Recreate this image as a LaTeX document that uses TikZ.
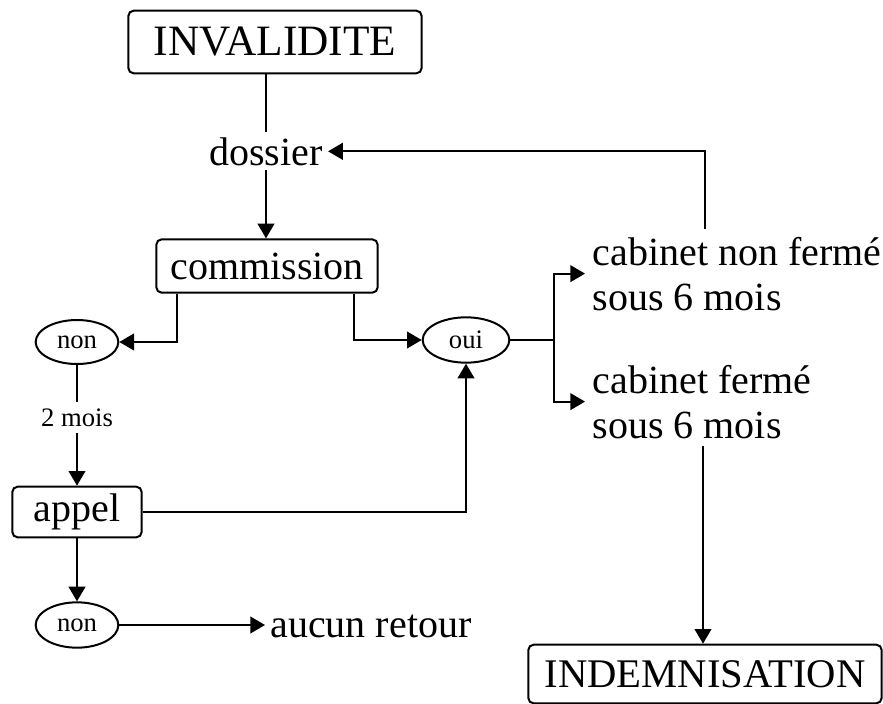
\documentclass[tikz,border=0pt]{standalone}
\usepackage{fontspec}
\setmainfont{Liberation Serif}
\usetikzlibrary{arrows.meta,shapes.geometric,calc}

\begin{document}
\begin{tikzpicture}[x=0.75pt, y=-0.75pt, line width=1.5pt,
  box/.style={draw, rounded corners=4pt, inner sep=0pt, font=\fontsize{30}{34}\selectfont},
  bulle/.style={draw, ellipse, inner sep=0pt, minimum width=62pt, minimum height=33pt,
                font=\fontsize{20}{24}\selectfont},
  etiq/.style={font=\fontsize{30}{33.75}\selectfont},
  fleche/.style={-{Triangle[length=11pt,width=12.5pt]}}]
  \useasboundingbox (0,0) rectangle (883,704);
  % boxes and labels
  \node[box, minimum width=220pt, minimum height=47pt, font=\fontsize{32.5}{36}\selectfont]
    (invalidite) at (275,42) {INVALIDITE};
  \node[etiq, anchor=base, inner ysep=3pt] (dossier) at (266,165) {dossier};
  \node[box, minimum width=166pt, minimum height=40pt] (commission) at (267,266) {commission};
  \node[bulle] (non) at (77,342) {non};
  \node[font=\fontsize{20}{24}\selectfont, anchor=base, inner sep=4pt] (delai) at (77,426) {2 mois};
  \node[box, minimum width=97pt, minimum height=38pt] (appel) at (77,512) {appel};
  \node[bulle, minimum height=34pt] (refus) at (77,625) {non};
  \node[etiq, anchor=base west] (aucun) at (265,637) {aucun retour};
  \node[bulle, minimum width=65pt, minimum height=34pt] (oui) at (466,340) {oui};
  % base = last line of a two-line node
  \node[etiq, align=left, anchor=base west, inner sep=5pt] (ouvert) at (585,310)
    {cabinet non fermé\\sous 6 mois};
  \node[etiq, align=left, anchor=base west, inner sep=5pt] (ferme) at (585,438)
    {cabinet fermé\\sous 6 mois};
  \node[box, minimum width=265pt, minimum height=44pt, font=\fontsize{30.5}{34}\selectfont]
    (indem) at (705,674) {INDEMNISATION};
  % connectors
  \draw (dossier.north |- invalidite.south) -- (dossier.north);
  \draw[fleche] (dossier) -- (dossier |- commission.north);
  \draw[fleche] ($(commission.south west)+(22,0)$) |- (non);
  \draw[fleche] ($(commission.south east)+(-25,0)$) |- (oui);
  \draw (non) -- (delai);
  \draw[fleche] (delai) -- (appel);
  \draw[fleche] (appel) -| (oui);
  \draw[fleche] (appel) -- (refus);
  \draw[fleche] (refus) -- (refus -| aucun.west);
  % fork after oui
  \coordinate (fourche) at (554,340);
  \draw (oui) -- (fourche);
  \draw[fleche] (fourche) |- (ouvert.west);
  \draw[fleche] (fourche) |- (ferme.west);
  \draw[fleche] ($(ouvert.north west)+(120,0)$) |- (dossier.east);
  \coordinate (chute) at ($(ferme.south west)+(118,0)$);
  \draw[fleche] (chute) -- (chute |- indem.north);
\end{tikzpicture}
\end{document}
